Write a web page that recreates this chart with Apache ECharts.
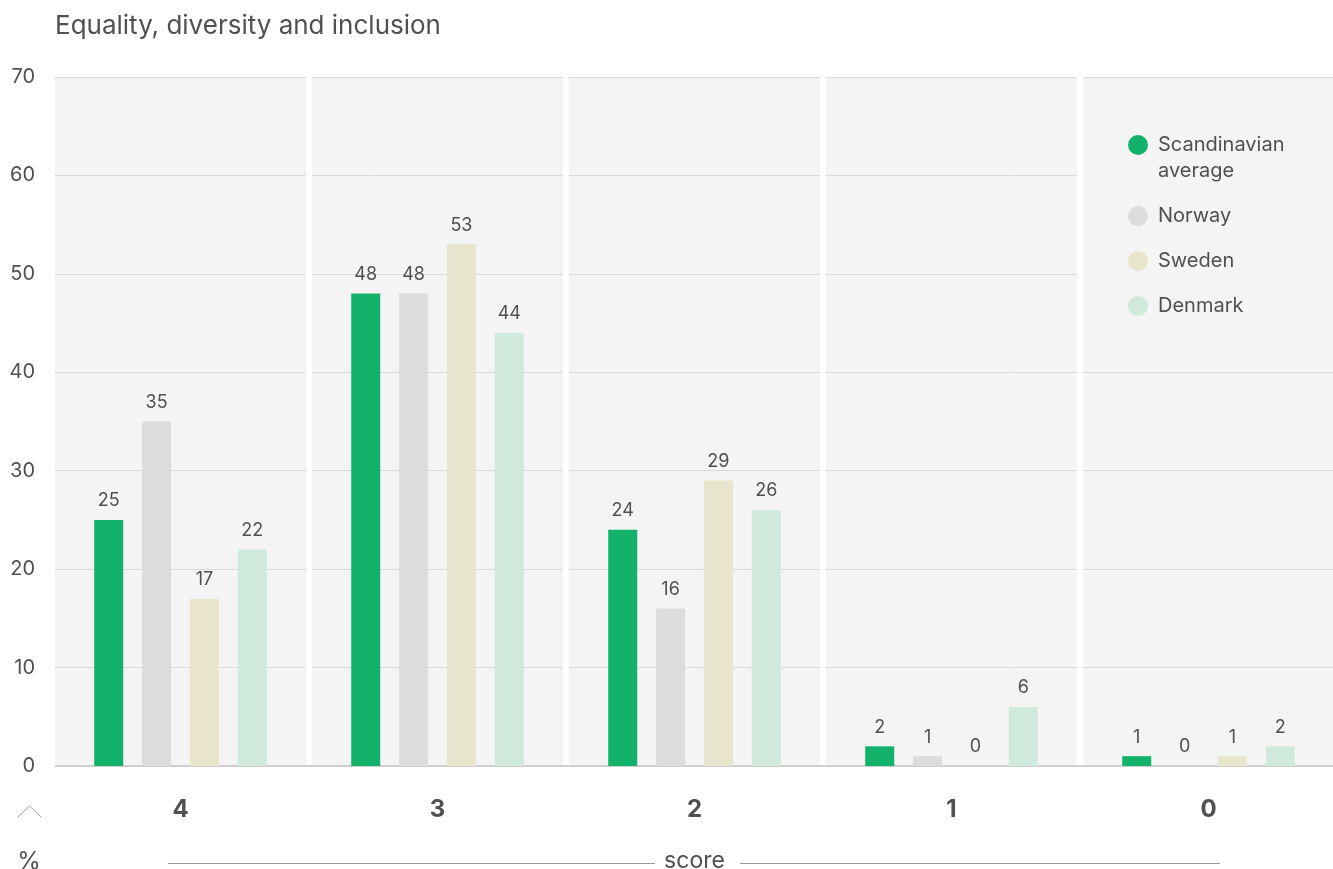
<!DOCTYPE html>
<html>
<head>
<meta charset="utf-8">
<title>Equality, diversity and inclusion</title>
<script src="https://cdn.jsdelivr.net/npm/echarts@6/dist/echarts.min.js"></script>
<style>
  html, body { margin: 0; padding: 0; background: #fff; }
  #chart { width: 1333px; height: 869px; }
</style>
</head>
<body>
<div id="chart"></div>
<script>
// Score categories along the x axis
const scores = ['4', '3', '2', '1', '0'];

// Share of respondents (%) per score
const scandinavianAverage = [25, 48, 24, 2, 1];
const norway = [35, 48, 16, 1, 0];
const sweden = [17, 53, 29, 0, 1];
const denmark = [22, 44, 26, 6, 2];

const seriesNames = ['Scandinavian\naverage', 'Norway', 'Sweden', 'Denmark'];
const seriesColors = ['#13b26b', '#dcdcde', '#e9e4cc', '#cfe9da'];
const seriesValues = [scandinavianAverage, norway, sweden, denmark];

const FONT = 'Inter, "Liberation Sans", sans-serif';
const TEXT = '#505050';

const chart = echarts.init(document.getElementById('chart'), null, { renderer: 'canvas' });

const series = seriesNames.map((name, i) => ({
  name: name,
  type: 'bar',
  data: seriesValues[i],
  barWidth: 29,
  barGap: '65%',
  itemStyle: { color: seriesColors[i] },
  label: {
    show: true,
    position: 'top',
    distance: 10,
    color: TEXT,
    fontSize: 18,
    fontFamily: FONT
  },
  emphasis: { disabled: true }
}));

chart.setOption({
  animation: false,
  textStyle: { fontFamily: FONT },
  title: {
    text: 'Equality, diversity and inclusion',
    left: 55,
    top: 13,
    padding: 0,
    textStyle: { color: TEXT, fontSize: 26, fontWeight: 'normal', fontFamily: FONT }
  },
  legend: {
    orient: 'vertical',
    left: 1128,
    top: 106,
    padding: 0,
    itemWidth: 20,
    itemHeight: 20,
    itemGap: 19,
    icon: 'circle',
    selectedMode: false,
    // a leading blank line keeps the marker beside the first line of a wrapped name
    formatter: (name) => name.indexOf('\n') >= 0 ? '\u00a0\n' + name : name,
    textStyle: { color: TEXT, fontSize: 20, lineHeight: 26, fontFamily: FONT, padding: [0, 0, 0, 5] },
    data: seriesNames
  },
  grid: {
    left: 52,
    right: -4,
    top: 77,
    bottom: 103,
    outerBoundsMode: 'none',
    containLabel: false,
    show: true,
    backgroundColor: '#f4f4f4',
    borderWidth: 0
  },
  xAxis: {
    type: 'category',
    data: scores,
    name: 'score',
    nameLocation: 'middle',
    nameGap: 84,
    nameTextStyle: { color: TEXT, fontSize: 23, fontFamily: FONT },
    axisLine: { show: true, lineStyle: { color: '#cfcfcf', width: 2 } },
    axisTick: { show: false },
    axisLabel: { color: TEXT, fontSize: 24, fontWeight: 'bold', margin: 32, fontFamily: FONT },
    splitLine: {
      show: true,
      showMinLine: false,
      showMaxLine: false,
      lineStyle: { color: '#ffffff', width: 6 }
    }
  },
  yAxis: {
    type: 'value',
    min: 0,
    max: 70,
    interval: 10,
    axisLine: { show: false },
    axisTick: { show: false },
    axisLabel: { color: TEXT, fontSize: 20, margin: 17, fontFamily: FONT },
    splitLine: { show: true, lineStyle: { color: '#d9d9d9', width: 1 } }
  },
  graphic: [
    // legend panel covering the upper right band
    { type: 'rect', z: 1, shape: { x: 1083, y: 78, width: 250, height: 272 }, style: { fill: '#f4f4f4' } },
    // trim the plot's left edge
    { type: 'rect', z: 1, shape: { x: 46, y: 70, width: 9, height: 700 }, style: { fill: '#ffffff' } },
    // up-arrow hint and unit
    { type: 'polyline', z: 5, shape: { points: [[18, 817], [29.5, 806], [41, 817]] }, style: { stroke: '#9a9a9a', lineWidth: 1, fill: null } },
    { type: 'text', z: 5, x: 29, y: 862, style: { text: '%', fill: TEXT, fontSize: 24, fontFamily: FONT, align: 'center', verticalAlign: 'middle' } },
    // rules flanking the axis name
    { type: 'line', z: 5, shape: { x1: 168, y1: 863.5, x2: 655, y2: 863.5 }, style: { stroke: '#9a9a9a', lineWidth: 1 } },
    { type: 'line', z: 5, shape: { x1: 740, y1: 863.5, x2: 1220, y2: 863.5 }, style: { stroke: '#9a9a9a', lineWidth: 1 } }
  ],
  series: series
});
</script>
</body>
</html>
